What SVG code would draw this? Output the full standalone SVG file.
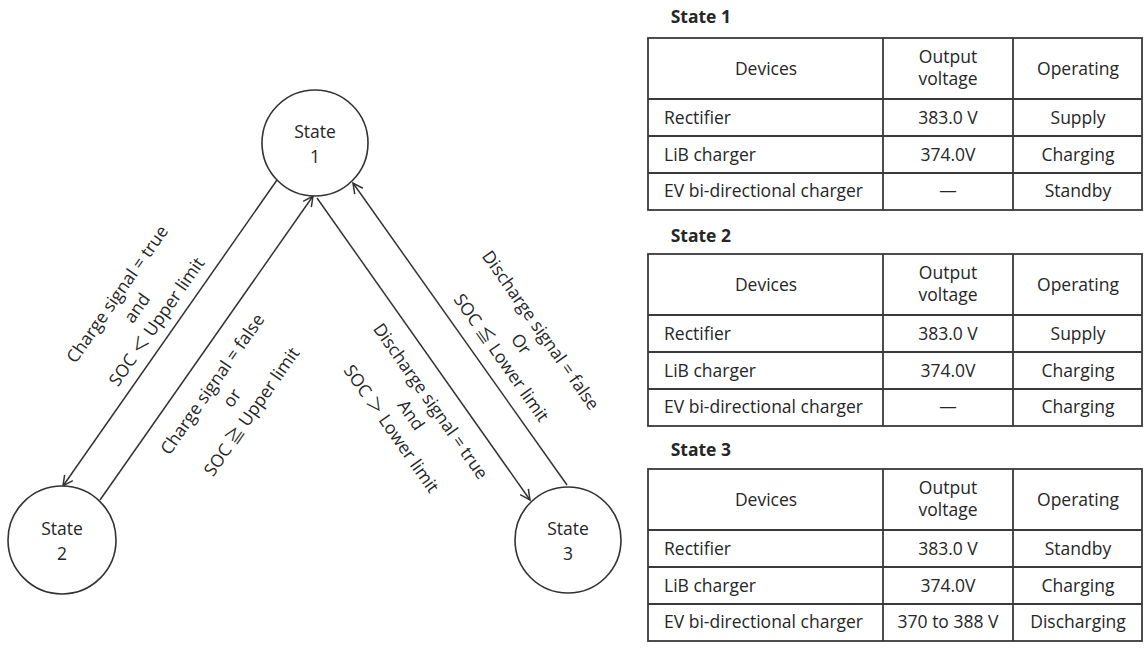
<svg xmlns="http://www.w3.org/2000/svg" width="1145" height="652" viewBox="0 0 1145 652">
  <style>
    text { font-family: "Open Sans", "Noto Sans CJK JP", sans-serif; font-size: 17.5px; fill: #262626; }
    .title { font-weight: bold; font-size: 17.5px; text-anchor: end; }
    .c { text-anchor: middle; }
    .node circle { fill: #ffffff; stroke: #333333; stroke-width: 1.6; }
    .edge { fill: none; stroke: #333333; stroke-width: 1.5; marker-end: url(#arrow); }
    .grid { fill: none; stroke: #3a3a3a; stroke-width: 1.8; }
  </style>
  <defs>
    <marker id="arrow" viewBox="0 0 12 12" refX="11" refY="6" markerWidth="12" markerHeight="12" markerUnits="userSpaceOnUse" orient="auto">
      <path d="M1,1 L11,6 L1,11" fill="none" stroke="#333333" stroke-width="1.5"/>
    </marker>
  </defs>
  <rect width="1145" height="652" fill="#ffffff"/>

  <!-- transitions between the three states -->
  <g id="connectors">
    <path class="edge" d="M277,180 L63,486"/>
    <path class="edge" d="M100,500 L313,196"/>
    <path class="edge" d="M317,198 L530,500"/>
    <path class="edge" d="M567,485 L353,183"/>
  </g>

  <!-- transition conditions -->
  <g id="labels">
    <g transform="translate(137,308) rotate(-55)">
      <text class="c" x="0" y="-18">Charge signal = true</text>
      <text class="c" x="0" y="6">and</text>
      <text class="c" x="0" y="30">SOC ＜ Upper limit</text>
    </g>
    <g transform="translate(232,398) rotate(-55)">
      <text class="c" x="0" y="-18">Charge signal = false</text>
      <text class="c" x="0" y="6">or</text>
      <text class="c" x="0" y="30">SOC ≧ Upper limit</text>
    </g>
    <g transform="translate(411,415) rotate(55)">
      <text class="c" x="0" y="-18">Discharge signal = true</text>
      <text class="c" x="0" y="6">And</text>
      <text class="c" x="0" y="30">SOC ＞ Lower limit</text>
    </g>
    <g transform="translate(521,344) rotate(55)">
      <text class="c" x="0" y="-18">Discharge signal = false</text>
      <text class="c" x="0" y="6">Or</text>
      <text class="c" x="0" y="30">SOC ≦ Lower limit</text>
    </g>
  </g>

  <!-- state nodes -->
  <g id="state1" class="node">
    <circle cx="315" cy="143" r="53"/>
    <text class="c" x="315" y="138">State</text>
    <text class="c" x="315" y="163">1</text>
  </g>
  <g id="state2" class="node">
    <circle cx="62" cy="540" r="54"/>
    <text class="c" x="62" y="535">State</text>
    <text class="c" x="62" y="560">2</text>
  </g>
  <g id="state3" class="node">
    <circle cx="568" cy="540" r="53"/>
    <text class="c" x="568" y="535">State</text>
    <text class="c" x="568" y="560">3</text>
  </g>

  <!-- device tables per state -->
  <g id="table1">
    <text class="title" x="731" y="23">State 1</text>
    <rect class="grid" x="648" y="38" width="494" height="172"/>
    <path class="grid" d="M648,99 H1142 M648,136 H1142 M648,173 H1142 M883,38 V210 M1013,38 V210"/>
    <text class="c" x="766" y="75">Devices</text>
    <text class="c" x="948" y="63">Output</text>
    <text class="c" x="948" y="85">voltage</text>
    <text class="c" x="1078" y="75">Operating</text>
    <text x="664" y="124">Rectifier</text>
    <text class="c" x="948" y="124">383.0 V</text>
    <text class="c" x="1078" y="124">Supply</text>
    <text x="664" y="161">LiB charger</text>
    <text class="c" x="948" y="161">374.0V</text>
    <text class="c" x="1078" y="161">Charging</text>
    <text x="664" y="197">EV bi-directional charger</text>
    <text class="c" x="948" y="197">—</text>
    <text class="c" x="1078" y="197">Standby</text>
  </g>

  <g id="table2">
    <text class="title" x="731" y="242">State 2</text>
    <rect class="grid" x="648" y="254" width="494" height="172"/>
    <path class="grid" d="M648,315 H1142 M648,352 H1142 M648,389 H1142 M883,254 V426 M1013,254 V426"/>
    <text class="c" x="766" y="291">Devices</text>
    <text class="c" x="948" y="279">Output</text>
    <text class="c" x="948" y="301">voltage</text>
    <text class="c" x="1078" y="291">Operating</text>
    <text x="664" y="340">Rectifier</text>
    <text class="c" x="948" y="340">383.0 V</text>
    <text class="c" x="1078" y="340">Supply</text>
    <text x="664" y="377">LiB charger</text>
    <text class="c" x="948" y="377">374.0V</text>
    <text class="c" x="1078" y="377">Charging</text>
    <text x="664" y="413">EV bi-directional charger</text>
    <text class="c" x="948" y="413">—</text>
    <text class="c" x="1078" y="413">Charging</text>
  </g>

  <g id="table3">
    <text class="title" x="731" y="456">State 3</text>
    <rect class="grid" x="648" y="469" width="494" height="172"/>
    <path class="grid" d="M648,530 H1142 M648,567 H1142 M648,604 H1142 M883,469 V641 M1013,469 V641"/>
    <text class="c" x="766" y="506">Devices</text>
    <text class="c" x="948" y="494">Output</text>
    <text class="c" x="948" y="516">voltage</text>
    <text class="c" x="1078" y="506">Operating</text>
    <text x="664" y="555">Rectifier</text>
    <text class="c" x="948" y="555">383.0 V</text>
    <text class="c" x="1078" y="555">Standby</text>
    <text x="664" y="592">LiB charger</text>
    <text class="c" x="948" y="592">374.0V</text>
    <text class="c" x="1078" y="592">Charging</text>
    <text x="664" y="628">EV bi-directional charger</text>
    <text class="c" x="948" y="628">370 to 388 V</text>
    <text class="c" x="1078" y="628">Discharging</text>
  </g>
</svg>
